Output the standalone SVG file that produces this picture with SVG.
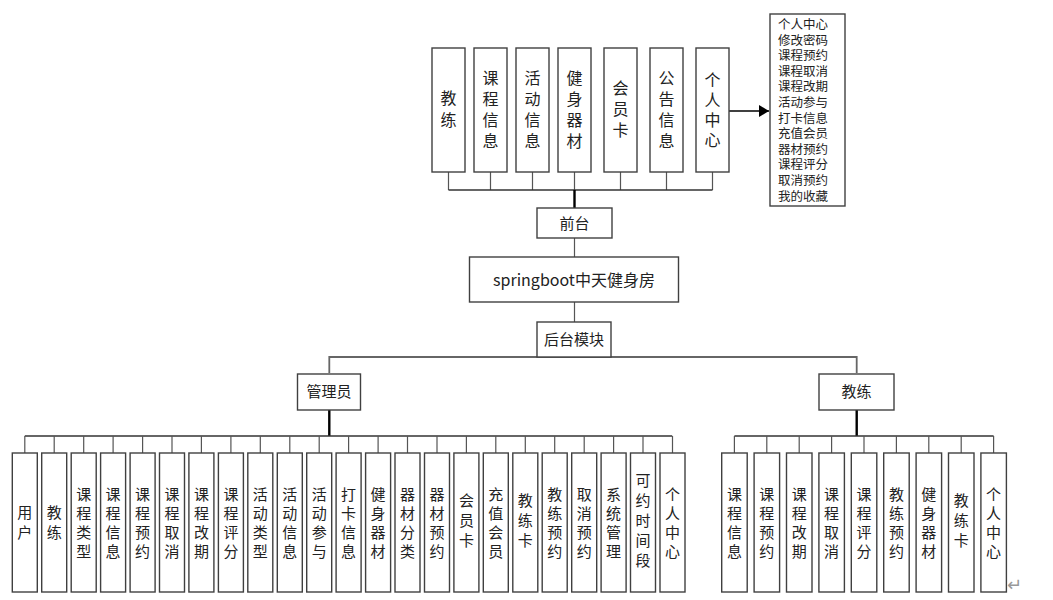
<svg xmlns="http://www.w3.org/2000/svg" width="1053" height="600" viewBox="0 0 1053 600">
<style>
.box{fill:#fff;stroke:#404040;stroke-width:1.4}
.t{font-family:"Noto Sans CJK SC","Microsoft YaHei",sans-serif;fill:#222;text-anchor:middle}
.t16{font-size:16px}
.t15{font-size:15px}
.t13{font-size:12.5px;text-anchor:start}
.ln{fill:none;stroke:#555;stroke-width:1.2}
.bus{fill:none;stroke:#333;stroke-width:1.6}
.thick{fill:none;stroke:#000;stroke-width:2.4}
</style>
<defs>
<marker id="arr" markerWidth="12" markerHeight="12" refX="10" refY="6" orient="auto" markerUnits="userSpaceOnUse">
<path d="M0,0 L10,6 L0,12 Z" fill="#000"/>
</marker>
</defs>
<rect width="1053" height="600" fill="#fff"/>

<g id="connectors">
<path class="ln" d="M448.5,172V190M490.5,172V190M532.5,172V190M574.5,172V190M620.5,172V190M666.5,172V190M712.5,172V190"/>
<path class="bus" d="M448.5,190H712.5"/>
<path class="thick" d="M574.5,190V208"/>
<path class="ln" d="M574.5,238V257M574.5,302V322"/>
<line x1="729" y1="111" x2="769" y2="111" stroke="#000" stroke-width="1.6" marker-end="url(#arr)"/>
<path d="M329.3,373V357H856.7V373" fill="none" stroke="#666" stroke-width="1.8"/>
<path class="thick" d="M329.3,410V436"/>
<path class="bus" d="M24.8,436H672.2"/>
<path class="ln" d="M24.8,436V453M54.2,436V453M83.7,436V453M113.1,436V453M142.6,436V453M172,436V453M201.4,436V453M230.9,436V453M260.3,436V453M289.8,436V453M319.2,436V453M348.6,436V453M378.1,436V453M407.5,436V453M437,436V453M466.4,436V453M495.8,436V453M525.3,436V453M554.7,436V453M584.2,436V453M613.6,436V453M643,436V453M672.5,436V453"/>
<path class="thick" d="M856.7,410V436"/>
<path class="bus" d="M734.4,436H993.6"/>
<path class="ln" d="M734.4,436V453M766.8,436V453M799.2,436V453M831.6,436V453M864,436V453M896.4,436V453M928.8,436V453M961.2,436V453M993.6,436V453"/>
</g>

<g id="f-jiaolian"><rect class="box" x="432" y="48" width="33" height="124"/><text class="t t16"><tspan x="448.5" y="104">教</tspan><tspan x="448.5" y="126">练</tspan></text></g>
<g id="f-kecheng"><rect class="box" x="474" y="48" width="33" height="124"/><text class="t t16"><tspan x="490.5" y="84">课</tspan><tspan x="490.5" y="105">程</tspan><tspan x="490.5" y="126">信</tspan><tspan x="490.5" y="147">息</tspan></text></g>
<g id="f-huodong"><rect class="box" x="516" y="48" width="33" height="124"/><text class="t t16"><tspan x="532.5" y="84">活</tspan><tspan x="532.5" y="105">动</tspan><tspan x="532.5" y="126">信</tspan><tspan x="532.5" y="147">息</tspan></text></g>
<g id="f-qicai"><rect class="box" x="558" y="48" width="33" height="124"/><text class="t t16"><tspan x="574.5" y="84">健</tspan><tspan x="574.5" y="105">身</tspan><tspan x="574.5" y="126">器</tspan><tspan x="574.5" y="147">材</tspan></text></g>
<g id="f-huiyuan"><rect class="box" x="604" y="48" width="33" height="124"/><text class="t t16"><tspan x="620.5" y="94">会</tspan><tspan x="620.5" y="115">员</tspan><tspan x="620.5" y="136">卡</tspan></text></g>
<g id="f-gonggao"><rect class="box" x="650" y="48" width="33" height="124"/><text class="t t16"><tspan x="666.5" y="84">公</tspan><tspan x="666.5" y="105">告</tspan><tspan x="666.5" y="126">信</tspan><tspan x="666.5" y="147">息</tspan></text></g>
<g id="f-geren"><rect class="box" x="696" y="48" width="33" height="124"/><text class="t t16"><tspan x="712.5" y="86">个</tspan><tspan x="712.5" y="106">人</tspan><tspan x="712.5" y="126">中</tspan><tspan x="712.5" y="146">心</tspan></text></g>

<g id="f-geren-list"><rect class="box" x="770" y="14" width="75" height="192"/>
<text class="t t13"><tspan x="778" y="29">个人中心</tspan><tspan x="778" y="44.6">修改密码</tspan><tspan x="778" y="60.2">课程预约</tspan><tspan x="778" y="75.8">课程取消</tspan><tspan x="778" y="91.4">课程改期</tspan><tspan x="778" y="107">活动参与</tspan><tspan x="778" y="122.6">打卡信息</tspan><tspan x="778" y="138.2">充值会员</tspan><tspan x="778" y="153.8">器材预约</tspan><tspan x="778" y="169.4">课程评分</tspan><tspan x="778" y="185">取消预约</tspan><tspan x="778" y="200.6">我的收藏</tspan></text></g>

<g id="qiantai"><rect class="box" x="537" y="208" width="75" height="30"/><text class="t t15" x="574.5" y="228.5">前台</text></g>
<g id="root"><rect class="box" x="469.5" y="257" width="209" height="45"/><text class="t t16" x="574" y="285.5">springboot中天健身房</text></g>
<g id="houtai"><rect class="box" x="537" y="322" width="74" height="35"/><text class="t t15" x="574" y="344.5">后台模块</text></g>
<g id="admin"><rect class="box" x="297.5" y="374" width="63" height="36"/><text class="t t15" x="329" y="397">管理员</text></g>
<g id="coach"><rect class="box" x="819" y="374" width="75" height="36"/><text class="t t15" x="856.5" y="397">教练</text></g>

<g id="a1"><rect class="box" x="12.3" y="453" width="25" height="139"/><text class="t t15"><tspan x="24.8" y="518">用</tspan><tspan x="24.8" y="538">户</tspan></text></g>
<g id="a2"><rect class="box" x="41.7" y="453" width="25" height="139"/><text class="t t15"><tspan x="54.2" y="518">教</tspan><tspan x="54.2" y="538">练</tspan></text></g>
<g id="a3"><rect class="box" x="71.2" y="453" width="25" height="139"/><text class="t t15"><tspan x="83.7" y="500">课</tspan><tspan x="83.7" y="519">程</tspan><tspan x="83.7" y="538">类</tspan><tspan x="83.7" y="557">型</tspan></text></g>
<g id="a4"><rect class="box" x="100.6" y="453" width="25" height="139"/><text class="t t15"><tspan x="113.1" y="500">课</tspan><tspan x="113.1" y="519">程</tspan><tspan x="113.1" y="538">信</tspan><tspan x="113.1" y="557">息</tspan></text></g>
<g id="a5"><rect class="box" x="130.1" y="453" width="25" height="139"/><text class="t t15"><tspan x="142.6" y="500">课</tspan><tspan x="142.6" y="519">程</tspan><tspan x="142.6" y="538">预</tspan><tspan x="142.6" y="557">约</tspan></text></g>
<g id="a6"><rect class="box" x="159.5" y="453" width="25" height="139"/><text class="t t15"><tspan x="172" y="500">课</tspan><tspan x="172" y="519">程</tspan><tspan x="172" y="538">取</tspan><tspan x="172" y="557">消</tspan></text></g>
<g id="a7"><rect class="box" x="188.9" y="453" width="25" height="139"/><text class="t t15"><tspan x="201.4" y="500">课</tspan><tspan x="201.4" y="519">程</tspan><tspan x="201.4" y="538">改</tspan><tspan x="201.4" y="557">期</tspan></text></g>
<g id="a8"><rect class="box" x="218.4" y="453" width="25" height="139"/><text class="t t15"><tspan x="230.9" y="500">课</tspan><tspan x="230.9" y="519">程</tspan><tspan x="230.9" y="538">评</tspan><tspan x="230.9" y="557">分</tspan></text></g>
<g id="a9"><rect class="box" x="247.8" y="453" width="25" height="139"/><text class="t t15"><tspan x="260.3" y="500">活</tspan><tspan x="260.3" y="519">动</tspan><tspan x="260.3" y="538">类</tspan><tspan x="260.3" y="557">型</tspan></text></g>
<g id="a10"><rect class="box" x="277.3" y="453" width="25" height="139"/><text class="t t15"><tspan x="289.8" y="500">活</tspan><tspan x="289.8" y="519">动</tspan><tspan x="289.8" y="538">信</tspan><tspan x="289.8" y="557">息</tspan></text></g>
<g id="a11"><rect class="box" x="306.7" y="453" width="25" height="139"/><text class="t t15"><tspan x="319.2" y="500">活</tspan><tspan x="319.2" y="519">动</tspan><tspan x="319.2" y="538">参</tspan><tspan x="319.2" y="557">与</tspan></text></g>
<g id="a12"><rect class="box" x="336.1" y="453" width="25" height="139"/><text class="t t15"><tspan x="348.6" y="500">打</tspan><tspan x="348.6" y="519">卡</tspan><tspan x="348.6" y="538">信</tspan><tspan x="348.6" y="557">息</tspan></text></g>
<g id="a13"><rect class="box" x="365.6" y="453" width="25" height="139"/><text class="t t15"><tspan x="378.1" y="500">健</tspan><tspan x="378.1" y="519">身</tspan><tspan x="378.1" y="538">器</tspan><tspan x="378.1" y="557">材</tspan></text></g>
<g id="a14"><rect class="box" x="395" y="453" width="25" height="139"/><text class="t t15"><tspan x="407.5" y="500">器</tspan><tspan x="407.5" y="519">材</tspan><tspan x="407.5" y="538">分</tspan><tspan x="407.5" y="557">类</tspan></text></g>
<g id="a15"><rect class="box" x="424.5" y="453" width="25" height="139"/><text class="t t15"><tspan x="437" y="500">器</tspan><tspan x="437" y="519">材</tspan><tspan x="437" y="538">预</tspan><tspan x="437" y="557">约</tspan></text></g>
<g id="a16"><rect class="box" x="453.9" y="453" width="25" height="139"/><text class="t t15"><tspan x="466.4" y="506">会</tspan><tspan x="466.4" y="526">员</tspan><tspan x="466.4" y="546">卡</tspan></text></g>
<g id="a17"><rect class="box" x="483.3" y="453" width="25" height="139"/><text class="t t15"><tspan x="495.8" y="500">充</tspan><tspan x="495.8" y="519">值</tspan><tspan x="495.8" y="538">会</tspan><tspan x="495.8" y="557">员</tspan></text></g>
<g id="a18"><rect class="box" x="512.8" y="453" width="25" height="139"/><text class="t t15"><tspan x="525.3" y="506">教</tspan><tspan x="525.3" y="526">练</tspan><tspan x="525.3" y="546">卡</tspan></text></g>
<g id="a19"><rect class="box" x="542.2" y="453" width="25" height="139"/><text class="t t15"><tspan x="554.7" y="500">教</tspan><tspan x="554.7" y="519">练</tspan><tspan x="554.7" y="538">预</tspan><tspan x="554.7" y="557">约</tspan></text></g>
<g id="a20"><rect class="box" x="571.7" y="453" width="25" height="139"/><text class="t t15"><tspan x="584.2" y="500">取</tspan><tspan x="584.2" y="519">消</tspan><tspan x="584.2" y="538">预</tspan><tspan x="584.2" y="557">约</tspan></text></g>
<g id="a21"><rect class="box" x="601.1" y="453" width="25" height="139"/><text class="t t15"><tspan x="613.6" y="500">系</tspan><tspan x="613.6" y="519">统</tspan><tspan x="613.6" y="538">管</tspan><tspan x="613.6" y="557">理</tspan></text></g>
<g id="a22"><rect class="box" x="630.5" y="453" width="25" height="139"/><text class="t t15"><tspan x="643" y="486">可</tspan><tspan x="643" y="506">约</tspan><tspan x="643" y="526">时</tspan><tspan x="643" y="546">间</tspan><tspan x="643" y="566">段</tspan></text></g>
<g id="a23"><rect class="box" x="660" y="453" width="25" height="139"/><text class="t t15"><tspan x="672.5" y="500">个</tspan><tspan x="672.5" y="519">人</tspan><tspan x="672.5" y="538">中</tspan><tspan x="672.5" y="557">心</tspan></text></g>

<g id="c1"><rect class="box" x="721.7" y="453" width="25.5" height="139"/><text class="t t15"><tspan x="734.4" y="500">课</tspan><tspan x="734.4" y="519">程</tspan><tspan x="734.4" y="538">信</tspan><tspan x="734.4" y="557">息</tspan></text></g>
<g id="c2"><rect class="box" x="754.1" y="453" width="25.5" height="139"/><text class="t t15"><tspan x="766.8" y="500">课</tspan><tspan x="766.8" y="519">程</tspan><tspan x="766.8" y="538">预</tspan><tspan x="766.8" y="557">约</tspan></text></g>
<g id="c3"><rect class="box" x="786.5" y="453" width="25.5" height="139"/><text class="t t15"><tspan x="799.2" y="500">课</tspan><tspan x="799.2" y="519">程</tspan><tspan x="799.2" y="538">改</tspan><tspan x="799.2" y="557">期</tspan></text></g>
<g id="c4"><rect class="box" x="818.9" y="453" width="25.5" height="139"/><text class="t t15"><tspan x="831.6" y="500">课</tspan><tspan x="831.6" y="519">程</tspan><tspan x="831.6" y="538">取</tspan><tspan x="831.6" y="557">消</tspan></text></g>
<g id="c5"><rect class="box" x="851.3" y="453" width="25.5" height="139"/><text class="t t15"><tspan x="864" y="500">课</tspan><tspan x="864" y="519">程</tspan><tspan x="864" y="538">评</tspan><tspan x="864" y="557">分</tspan></text></g>
<g id="c6"><rect class="box" x="883.7" y="453" width="25.5" height="139"/><text class="t t15"><tspan x="896.4" y="500">教</tspan><tspan x="896.4" y="519">练</tspan><tspan x="896.4" y="538">预</tspan><tspan x="896.4" y="557">约</tspan></text></g>
<g id="c7"><rect class="box" x="916.1" y="453" width="25.5" height="139"/><text class="t t15"><tspan x="928.8" y="500">健</tspan><tspan x="928.8" y="519">身</tspan><tspan x="928.8" y="538">器</tspan><tspan x="928.8" y="557">材</tspan></text></g>
<g id="c8"><rect class="box" x="948.5" y="453" width="25.5" height="139"/><text class="t t15"><tspan x="961.2" y="506">教</tspan><tspan x="961.2" y="526">练</tspan><tspan x="961.2" y="546">卡</tspan></text></g>
<g id="c9"><rect class="box" x="980.9" y="453" width="25.5" height="139"/><text class="t t15"><tspan x="993.6" y="500">个</tspan><tspan x="993.6" y="519">人</tspan><tspan x="993.6" y="538">中</tspan><tspan x="993.6" y="557">心</tspan></text></g>

<text x="1007" y="591" font-family="DejaVu Sans,sans-serif" font-size="18" fill="#999">↵</text>
</svg>
